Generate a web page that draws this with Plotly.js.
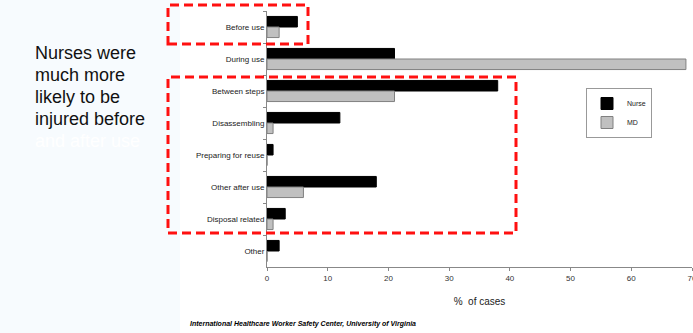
<!DOCTYPE html>
<html>
<head>
<meta charset="utf-8">
<script src="https://cdn.plot.ly/plotly-3.0.1.min.js"></script>
<style>
  html, body { margin: 0; padding: 0; background: #ffffff; overflow: hidden; }
  #chart { width: 693px; height: 333px; }
</style>
</head>
<body>
<div id="chart"></div>
<script>
// Phase of the procedure in which the injury happened
const categories = [
  "Before use",
  "During use",
  "Between steps",
  "Disassembling",
  "Preparing for reuse",
  "Other after use",
  "Disposal related",
  "Other"
];

// Share of cases (%) for each group
const nurseValues = [5, 21, 38, 12, 1, 18, 3, 2];
const mdValues = [2, 69, 21, 1, 0, 6, 1, 0];

const xTicks = [0, 10, 20, 30, 40, 50, 60, 70];

const sideNote = ["Nurses were", "much more", "likely to be", "injured before", "and after use"];
const sourceNote = "International Healthcare Worker Safety Center, University of Virginia";

// Plot area geometry in pixels
const W = 693, H = 333;
const M = { l: 267, r: 1, t: 11, b: 66 };
const PW = W - M.l - M.r, PH = H - M.t - M.b;
const px = x => (x - M.l) / PW;           // page x -> paper x
const py = y => (H - M.b - y) / PH;       // page y -> paper y

const font = "Arial, 'Liberation Sans', sans-serif";

const traces = [
  {
    type: "bar", orientation: "h", name: "Nurse",
    y: categories, x: nurseValues,
    marker: { color: "#000000", line: { color: "#000000", width: 1 } },
    hoverinfo: "skip"
  },
  {
    type: "bar", orientation: "h", name: "MD",
    y: categories, x: mdValues,
    marker: { color: "#c0c0c0", line: { color: "#808080", width: 1 } },
    hoverinfo: "skip"
  }
];

const redDash = { color: "#ff1010", width: 3, dash: "9px,5px" };

const shapes = [
  // pale panel behind the side note
  { type: "rect", xref: "paper", yref: "paper", layer: "below",
    x0: px(0), x1: px(180), y0: py(H), y1: py(0),
    fillcolor: "#f7fbfe", line: { width: 0 } },
  // highlight: before use
  { type: "rect", xref: "paper", yref: "paper", layer: "above",
    x0: px(168), x1: px(308), y0: py(44), y1: py(5),
    line: redDash, fillcolor: "rgba(0,0,0,0)" },
  // highlight: after use phases
  { type: "rect", xref: "paper", yref: "paper", layer: "above",
    x0: px(168), x1: px(516), y0: py(233), y1: py(77),
    line: redDash, fillcolor: "rgba(0,0,0,0)" }
];

const noteY = [53, 75, 97, 119, 141];
const annotations = sideNote.map((t, i) => ({
  text: t, xref: "paper", yref: "paper",
  x: px(33), y: py(noteY[i]), xanchor: "left", yanchor: "middle",
  showarrow: false,
  font: { family: font, size: 18, color: i === sideNote.length - 1 ? "#ffffff" : "#111111" }
}));

annotations.push({
  text: "<b><i>" + sourceNote + "</i></b>",
  xref: "paper", yref: "paper",
  x: px(188), y: py(324), xanchor: "left", yanchor: "middle",
  showarrow: false,
  font: { family: font, size: 7, color: "#000000" }
});

const layout = {
  width: W, height: H,
  margin: M,
  paper_bgcolor: "#ffffff",
  plot_bgcolor: "#ffffff",
  barmode: "group",
  bargap: 0.34,
  bargroupgap: 0,
  showlegend: true,
  legend: {
    x: px(586), y: py(88), xanchor: "left", yanchor: "top",
    bgcolor: "#ffffff", bordercolor: "#999999", borderwidth: 1,
    font: { family: font, size: 7, color: "#222222" },
    traceorder: "normal",
    itemwidth: 30,
    tracegroupgap: 0
  },
  xaxis: {
    range: [0, 70],
    tickvals: xTicks,
    ticktext: xTicks.map(String),
    ticklabeloverflow: "allow",
    showgrid: false, zeroline: false,
    showline: true, linecolor: "#888888", linewidth: 1,
    ticks: "outside", ticklen: 3, tickcolor: "#888888",
    tickfont: { family: font, size: 8, color: "#333333" },
    title: { text: "%  of cases", font: { family: font, size: 10, color: "#222222" }, standoff: 16 },
    fixedrange: true
  },
  yaxis: {
    type: "category",
    autorange: "reversed",
    showgrid: false, zeroline: false,
    showline: true, linecolor: "#888888", linewidth: 1,
    ticks: "outside", ticklen: 3, tickcolor: "#888888",
    tickson: "boundaries",
    tickfont: { family: font, size: 8, color: "#222222" },
    fixedrange: true
  },
  shapes: shapes,
  annotations: annotations
};

Plotly.newPlot("chart", traces, layout, { staticPlot: true, displayModeBar: false });
</script>
</body>
</html>
